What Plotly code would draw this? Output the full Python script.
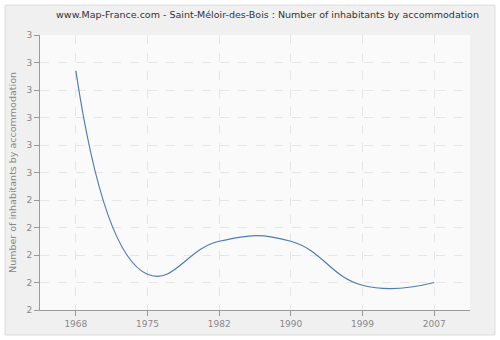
import plotly.graph_objects as go

years = ["1968", "1975", "1982", "1990", "1999", "2007"]
values = [2.87, 2.13, 2.25, 2.25, 2.09, 2.10]
ytick_vals = [2.0, 2.1, 2.2, 2.3, 2.4, 2.5, 2.6, 2.7, 2.8, 2.9, 3.0]
ytick_text = ["2", "2", "2", "2", "2", "3", "3", "3", "3", "3", "3"]

fig = go.Figure()
fig.add_trace(go.Scatter(
    x=years, y=values, mode="lines",
    line=dict(color="#4f7cb3", width=1.2, shape="spline", smoothing=1.3),
    hoverinfo="skip",
))

fig.add_shape(type="rect", xref="paper", yref="paper",
              x0=-0.0814, x1=1.0581, y0=-0.0909, y1=1.109,
              fillcolor="#f0f0f0", line=dict(color="#dddddd", width=1), layer="below")
fig.add_shape(type="rect", xref="paper", yref="paper",
              x0=0, x1=1, y0=0, y1=1,
              fillcolor="#fafafa", line=dict(width=0), layer="below")

fig.update_layout(
    width=500, height=340,
    margin=dict(l=40, r=30, t=35, b=30),
    paper_bgcolor="#ffffff",
    plot_bgcolor="#fafafa",
    showlegend=False,
    font=dict(family="DejaVu Sans", size=9, color="#888888"),
    title=dict(text="www.Map-France.com - Saint-Méloir-des-Bois : Number of inhabitants by accommodation",
               x=0.535, xref="container", xanchor="center",
               y=0.956, yref="container", yanchor="middle",
               font=dict(family="DejaVu Sans", size=9.5, color="#333333")),
    xaxis=dict(type="category", range=[-0.5, 5.5], showgrid=True,
               gridcolor="#e6e6e6", griddash="dash", gridwidth=1,
               showline=True, linecolor="#999999", linewidth=1,
               ticks="outside", ticklen=5, tickcolor="#999999",
               tickfont=dict(size=9, color="#888888"), zeroline=False, fixedrange=True),
    yaxis=dict(range=[2.0, 3.0], tickvals=ytick_vals, ticktext=ytick_text,
               showgrid=True, gridcolor="#e6e6e6", griddash="dash", gridwidth=1,
               showline=True, linecolor="#999999", linewidth=1,
               ticks="outside", ticklen=5, tickcolor="#999999",
               tickfont=dict(size=9, color="#888888"), zeroline=False,
               title=dict(text="Number of inhabitants by accommodation",
                          font=dict(size=9.5, color="#888888"), standoff=8),
               fixedrange=True),
)

fig.write_html("out.html")
